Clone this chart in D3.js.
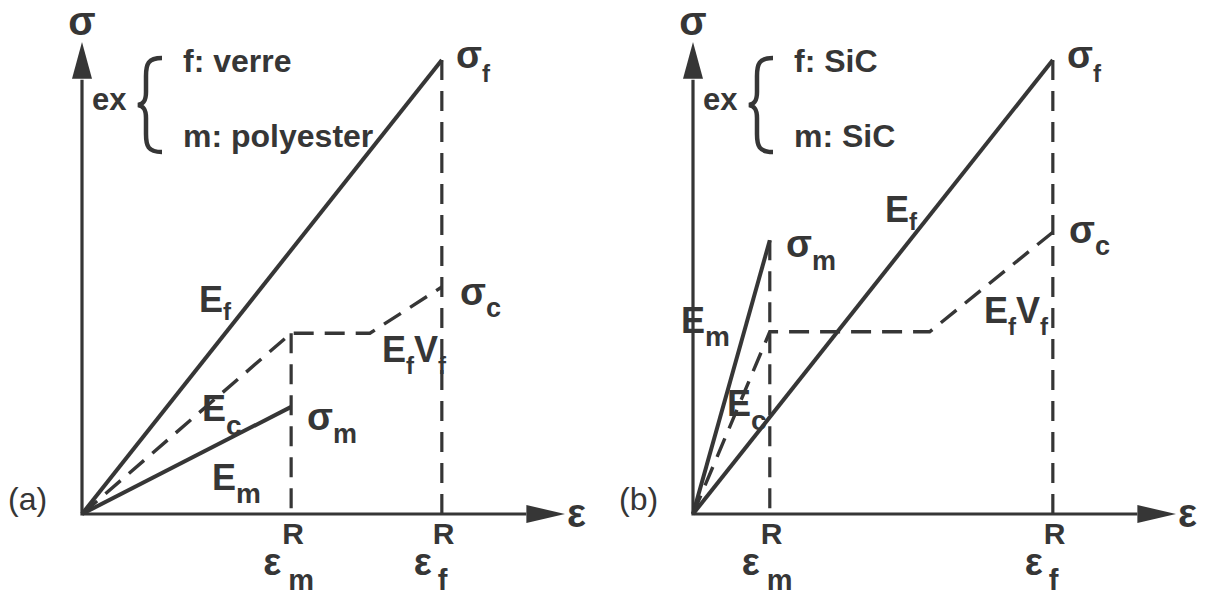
<!DOCTYPE html>
<html>
<head>
<script src="https://d3js.org/d3.v7.min.js"></script>
<style>
  body { margin: 0; background: #fff; }
  text { font-family: "Liberation Sans", Arial, sans-serif; font-weight: bold; fill: #363636; }
  .tag { font-weight: normal; }
</style>
</head>
<body>
<script>
// values in arbitrary units: strain 0..100 along the axis, stress 0..100 along the axis
var panels = ["(a)", "(b)"];
var fibreNames = ["f: verre", "f: SiC"];
var matrixNames = ["m: polyester", "m: SiC"];
var epsFibre = [74.5, 74.5];      // ε_f^R
var sigFibre = [96.2, 96.2];      // σ_f
var epsMatrix = [43.3, 15.9];     // ε_m^R
var sigMatrix = [22.7, 58.0];     // σ_m
var sigPlateau = [38.3, 38.6];    // composite after matrix failure
var epsKink = [59.6, 49.0];       // end of the plateau
var sigComposite = [48.1, 59.7];  // σ_c

var W = 1216, H = 598, ink = "#363636";
var svg = d3.select("body").append("svg").attr("width", W).attr("height", H);

// rich text: parts = [text, size, dx, dy]
function rich(g, x, y, parts, cls) {
    var t = g.append("text").attr("x", x).attr("y", y);
    if (cls) t.attr("class", cls);
    parts.forEach(function(p) {
        t.append("tspan").text(p[0]).attr("font-size", p[1])
            .attr("dx", p[2] || 0).attr("dy", p[3] || 0);
    });
    return t;
}

// label layout, pixel offsets from the panel origin (x) and absolute baselines (y)
var layout = [
    { sf: [374, 68], sc: [378, 305], sm: [225, 430], ef: [117, 312], ec: [120, 421], em: [130, 490], efv: [300, 362] },
    { sf: [374, 68], sc: [376, 243], sm: [93, 257], ef: [192, 222], ec: [34, 416], em: [-12, 333], efv: [291, 323] }
];
var origins = [82, 693];

panels.forEach(function(name, i) {
    var ox = origins[i];
    var x = d3.scaleLinear().domain([0, 100]).range([ox, ox + 483]);
    var y = d3.scaleLinear().domain([0, 100]).range([514, 42]);
    var g = svg.append("g");
    var line = d3.line().x(function(d) { return x(d[0]); }).y(function(d) { return y(d[1]); });

    // axes
    g.append("path").attr("d", line([[0, 92], [0, 0], [92, 0]]))
        .attr("fill", "none").attr("stroke", ink).attr("stroke-width", 3.2);
    g.append("path").attr("d", "M" + x(0) + "," + y(100) + "L" + (x(0) - 10) + "," + y(92.2) + "L" + (x(0) + 10) + "," + y(92.2) + "Z")
        .attr("fill", ink);
    g.append("path").attr("d", "M" + x(100) + "," + y(0) + "L" + x(92) + "," + (y(0) - 9) + "L" + x(92) + "," + (y(0) + 9) + "Z")
        .attr("fill", ink);
    rich(g, x(0), 35, [["σ", 40]]).attr("text-anchor", "middle");
    rich(g, x(100) + 2, 527, [["ε", 40]]);
    rich(g, ox - 74, 510, [[name, 32]], "tag");

    // lines
    g.append("path").attr("d", line([[0, 0], [epsFibre[i], sigFibre[i]]]))
        .attr("fill", "none").attr("stroke", ink).attr("stroke-width", 4);
    g.append("path").attr("d", line([[0, 0], [epsMatrix[i], sigMatrix[i]]]))
        .attr("fill", "none").attr("stroke", ink).attr("stroke-width", 4);
    g.append("path").attr("d", line([[0, 0], [epsMatrix[i], sigPlateau[i]], [epsKink[i], sigPlateau[i]], [epsFibre[i], sigComposite[i]]]))
        .attr("fill", "none").attr("stroke", ink).attr("stroke-width", 3.4).attr("stroke-dasharray", "20,11");
    g.append("path").attr("d", line([[epsFibre[i], sigFibre[i]], [epsFibre[i], 0]]))
        .attr("fill", "none").attr("stroke", ink).attr("stroke-width", 3.2).attr("stroke-dasharray", "20,11");
    g.append("path").attr("d", line([[epsMatrix[i], Math.max(sigMatrix[i], sigPlateau[i])], [epsMatrix[i], 0]]))
        .attr("fill", "none").attr("stroke", ink).attr("stroke-width", 3.2).attr("stroke-dasharray", "20,11");

    // legend
    rich(g, ox + 10, 110, [["ex", 31]]);
    g.append("path")
        .attr("d", "M" + (ox + 80) + ",58 C" + (ox + 66) + ",58 " + (ox + 64) + ",64 " + (ox + 64) + ",76 L" + (ox + 64) + ",92 C" + (ox + 64) + ",100 " + (ox + 62) + ",104 " + (ox + 56) + ",105 C" + (ox + 62) + ",106 " + (ox + 64) + ",110 " + (ox + 64) + ",118 L" + (ox + 64) + ",134 C" + (ox + 64) + ",146 " + (ox + 66) + ",152 " + (ox + 80) + ",152")
        .attr("fill", "none").attr("stroke", ink).attr("stroke-width", 4.5);
    rich(g, ox + 101, 72, [[fibreNames[i], 32]]);
    rich(g, ox + 101, 147, [[matrixNames[i], 32]]);

    // strain labels
    [[epsMatrix[i], "m"], [epsFibre[i], "f"]].forEach(function(e) {
        var ex = x(e[0]);
        rich(g, ex - 28, 575, [["ε", 38]]);
        rich(g, ex - 9, 544, [["R", 30]]);
        rich(g, ex - (e[1] === "m" ? 3 : 4), 590, [[e[1], 29]]);
    });

    // curve labels
    var L = layout[i];
    rich(g, ox + L.sf[0], L.sf[1], [["σ", 38], ["f", 24, 0, 14]]);
    rich(g, ox + L.sc[0], L.sc[1], [["σ", 38], ["c", 27, 0, 12]]);
    rich(g, ox + L.sm[0], L.sm[1], [["σ", 38], ["m", 27, 0, 13]]);
    rich(g, ox + L.ef[0], L.ef[1], [["E", 36], ["f", 24, 0, 8]]);
    rich(g, ox + L.ec[0], L.ec[1], [["E", 36], ["c", 28, 0, 14]]);
    rich(g, ox + L.em[0], L.em[1], [["E", 36], ["m", 28, 0, 13]]);
    rich(g, ox + L.efv[0], L.efv[1], [["E", 36], ["f", 24, 0, 12], ["V", 36, 0, -12], ["f", 24, 0, 12]]);
});
</script>
</body>
</html>
